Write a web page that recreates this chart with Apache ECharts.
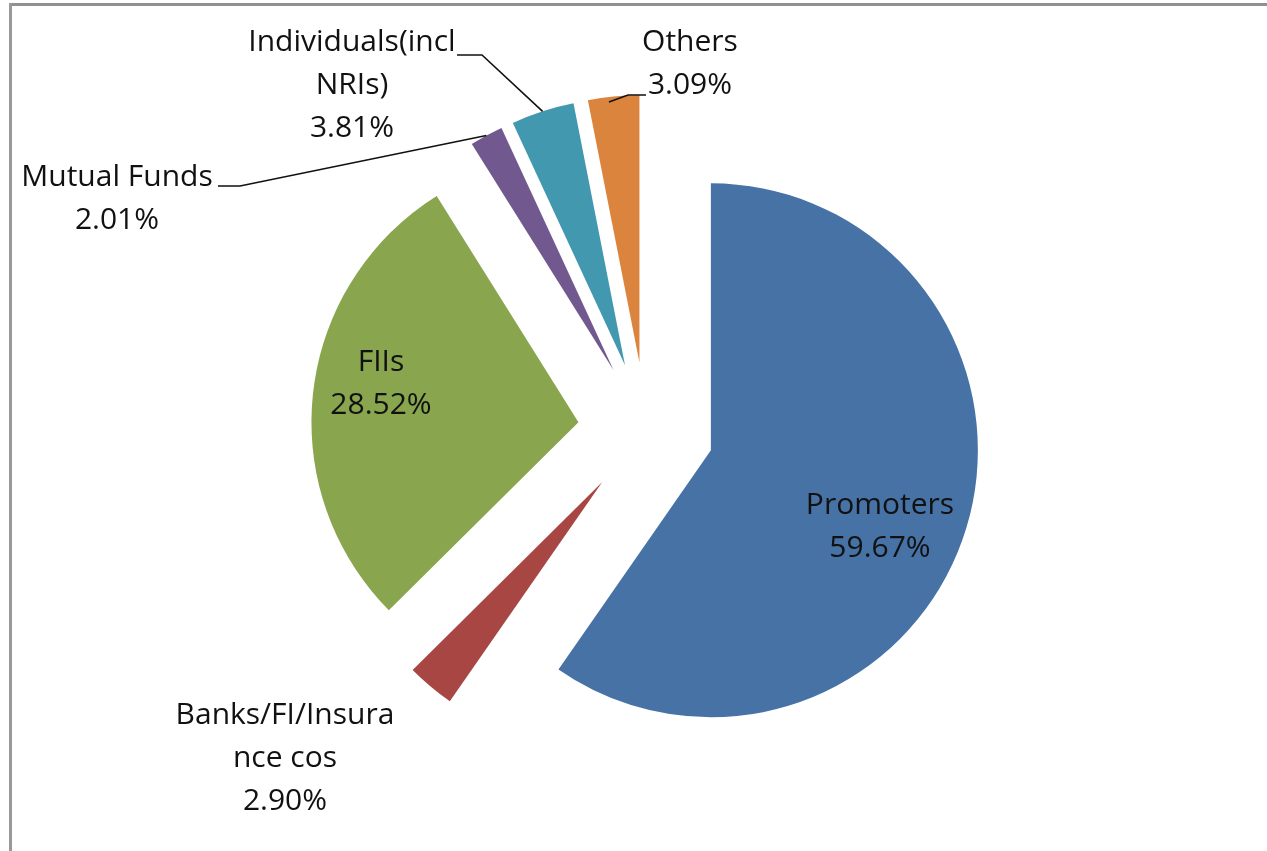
<!DOCTYPE html>
<html><head><meta charset="utf-8">
<script src="https://cdn.jsdelivr.net/npm/echarts@6/dist/echarts.min.js"></script>
<style>html,body{margin:0;padding:0;background:#fff}#c{width:1267px;height:851px}</style>
</head><body><div id="c"></div>
<script>
// ---- data ----
const categories = ['Promoters', 'Banks/FI/Insurance cos', 'FIIs', 'Mutual Funds', 'Individuals(incl NRIs)', 'Others'];
const labelNames = ['Promoters', 'Banks/FI/Insura\nnce cos', 'FIIs', 'Mutual Funds', 'Individuals(incl\nNRIs)', 'Others'];
const shares = [59.67, 2.90, 28.52, 2.01, 3.81, 3.09];
const colors = ['#4672A6', '#A84643', '#89A54E', '#71588F', '#4198AF', '#DB843D'];

// ---- layout ----
const CENTER = [646, 430], RADIUS = 267, OFFSET = 68;
const labelPos = [[880, 484], [285, 694], [381, 341], [117, 156], [352, 21], [690, 21]];
const withLeader = [false, false, false, true, true, true];
const anchorFrac = [0.5, 0.5, 0.5, 0.5, 0.5, 0.4];
const anchorInset = [0, 0, 0, 0, 0, 5];
const elbows = [null, null, null, [240, 186], [482, 55], [628, 95]];
const ends = [null, null, null, [218, 186], [457, 55], [646, 95]];

const total = shares.reduce((a, b) => a + b, 0);
function arcPoint(i, frac, inset) {
  let start = 0;
  for (let k = 0; k < i; k++) start += shares[k];
  const mid = (start + shares[i] / 2) / total * 2 * Math.PI;
  const a = (start + shares[i] * frac) / total * 2 * Math.PI;
  const cx = CENTER[0] + OFFSET * Math.sin(mid), cy = CENTER[1] - OFFSET * Math.cos(mid);
  const r = RADIUS - inset;
  return [cx + r * Math.sin(a), cy - r * Math.cos(a)];
}

const graphics = [
  {type: 'rect', shape: {x: 10, y: 3, width: 1257, height: 3}, style: {fill: '#909090'}},
  {type: 'rect', shape: {x: 9, y: 3, width: 3, height: 848}, style: {fill: '#999999'}}
];
shares.forEach((v, i) => {
  if (withLeader[i]) {
    graphics.push({
      type: 'polyline', z: 10,
      shape: {points: [arcPoint(i, anchorFrac[i], anchorInset[i]), elbows[i], ends[i]]},
      style: {stroke: '#111', lineWidth: 1.6, fill: null}
    });
  }
  graphics.push({
    type: 'text', z: 11,
    style: {
      x: labelPos[i][0], y: labelPos[i][1],
      text: labelNames[i] + '\n' + v.toFixed(2) + '%',
      align: 'center', verticalAlign: 'top',
      font: '30px "Open Sans"', lineHeight: 43, fill: '#111'
    }
  });
});

const chart = echarts.init(document.getElementById('c'), null, {renderer: 'canvas'});
chart.setOption({
  animation: false,
  backgroundColor: '#ffffff',
  graphic: graphics,
  series: [{
    type: 'pie',
    center: CENTER,
    radius: RADIUS,
    startAngle: 90,
    clockwise: true,
    selectedMode: 'multiple',
    selectedOffset: OFFSET,
    silent: true,
    itemStyle: {borderWidth: 0},
    label: {show: false},
    labelLine: {show: false},
    data: categories.map((n, i) => ({
      name: n,
      value: shares[i],
      selected: true,
      itemStyle: {color: colors[i]},
      select: {itemStyle: {color: colors[i]}}
    }))
  }]
});
</script>
</body></html>
